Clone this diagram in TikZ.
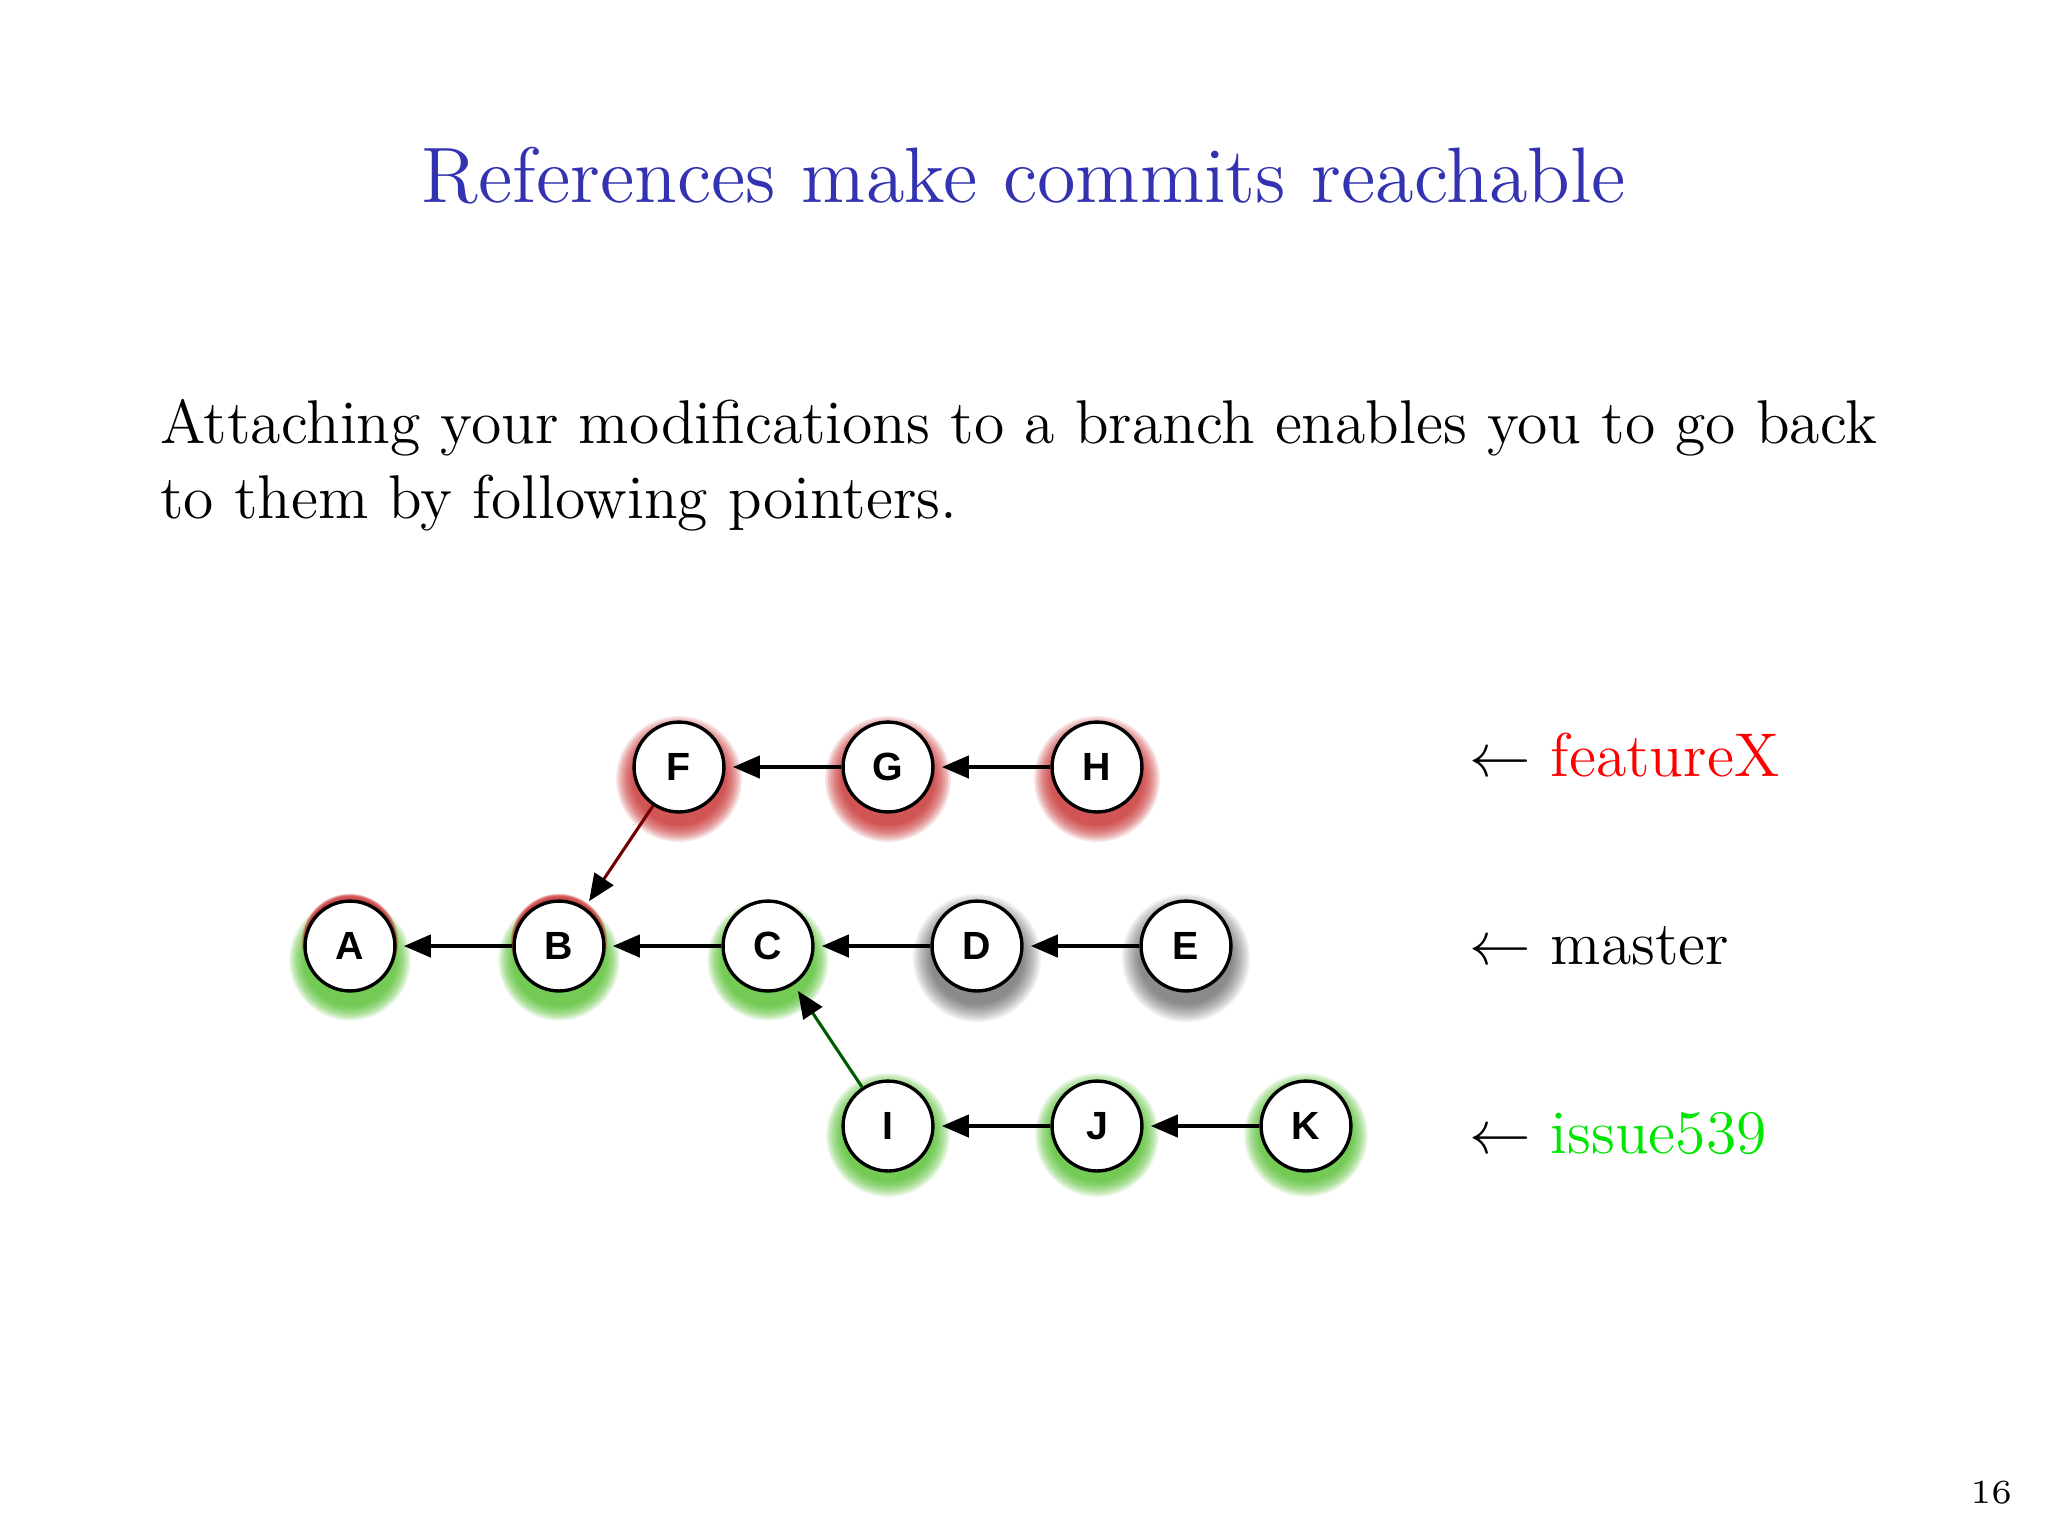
\documentclass[tikz,border=0pt]{standalone}
\usepackage{fontspec}
\newfontfamily\nodefont{Liberation Sans}
\usetikzlibrary{arrows.meta,calc,backgrounds}
\definecolor{titleblue}{rgb}{0.2,0.2,0.7}
\definecolor{glowred}{RGB}{195,30,30}
\definecolor{glowgreen}{RGB}{70,185,30}
\definecolor{glowgray}{RGB}{30,30,30}
\definecolor{labelgreen}{RGB}{0,230,0}
\newcommand\glow[5]{%
  \foreach \k in {1,...,12}{\fill[#2,opacity=#5] ($(#1)+(0,#3)$) circle [radius={8pt+\k*#4pt/12}];}}
\tikzset{
  commit/.style={circle, draw=black, line width=0.6pt, fill=white, minimum size=16pt, inner sep=0pt,
    font=\nodefont\bfseries\fontsize{7}{8}\selectfont},
  conn/.style={line width=0.55pt, draw=black, -{Triangle[length=4.8pt,width=4pt,color=black]}, shorten >=1.3pt},
  txt/.style={inner sep=0pt, font=\fontsize{11}{13.6}\selectfont},
}
\begin{document}
\begin{tikzpicture}[x=0.00625cm,y=-0.00625cm]
\useasboundingbox (0,0) rectangle (2048,1536);
% texts
\node[anchor=base, inner sep=0pt, text=titleblue, font=\fontsize{14}{17}\selectfont] (title) at (1024,202) {References make commits reachable};
\node[txt, anchor=base west] (line1) at (159,443) {Attaching your modifications to a branch enables you to go back};
\node[txt, anchor=base west] (line2) at (159,518) {to them by following pointers.};
% commits
\node[commit] (A) at (350,946) {A};
\node[commit] (B) at (559,946) {B};
\node[commit] (C) at (768,946) {C};
\node[commit] (D) at (977,946) {D};
\node[commit] (E) at (1186,946) {E};
\node[commit] (F) at (679,767) {F};
\node[commit] (G) at (888,767) {G};
\node[commit] (H) at (1097,767) {H};
\node[commit] (I) at (888,1126) {I};
\node[commit] (J) at (1097,1126) {J};
\node[commit] (K) at (1306,1126) {K};
% glows
\begin{scope}[on background layer]
  \foreach \n in {F,G,H}{\glow{\n}{glowred}{12}{3.2}{0.11}}
  \foreach \n in {I,J,K}{\glow{\n}{glowgreen}{9}{3}{0.11}}
  \foreach \n in {D,E}{\glow{\n}{glowgray}{12}{3.4}{0.06}}
  \foreach \n in {A,B,C}{\glow{\n}{glowgreen}{14}{2.8}{0.11}}
  \foreach \n in {A,B}{\glow{\n}{glowred}{-4}{0.6}{0.12}}
\end{scope}
% connectors
\draw[conn] (B) -- (A);
\draw[conn] (C) -- (B);
\draw[conn] (D) -- (C);
\draw[conn] (E) -- (D);
\draw[conn] (G) -- (F);
\draw[conn] (H) -- (G);
\draw[conn, draw=red!45!black] (F) -- (B);
\draw[conn, draw=green!35!black] (I) -- (C);
\draw[conn] (J) -- (I);
\draw[conn] (K) -- (J);
% labels
\node[txt, anchor=base west] (lf) at (1468,776) {$\leftarrow$ \textcolor{red}{featureX}};
\node[txt, anchor=base west] (lm) at (1468,964) {$\leftarrow$ master};
\node[txt, anchor=base west] (li) at (1468,1153) {$\leftarrow$ \textcolor{labelgreen}{issue539}};
\node[anchor=base east, inner sep=0pt, font=\fontsize{6}{7}\selectfont] (page) at (2013,1503) {16};
\end{tikzpicture}
\end{document}
